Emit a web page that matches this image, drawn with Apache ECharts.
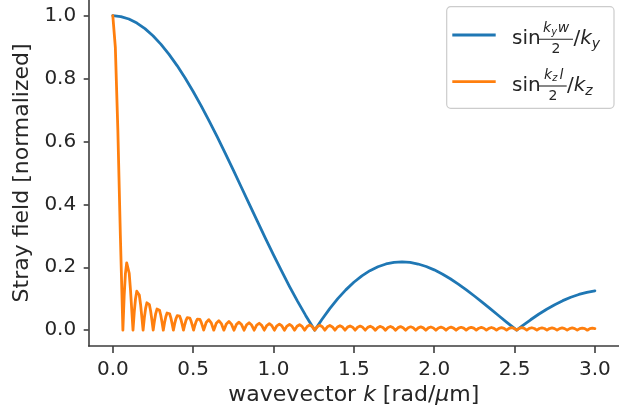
<!DOCTYPE html>
<html>
<head>
<meta charset="utf-8">
<script src="https://cdn.jsdelivr.net/npm/echarts@6/dist/echarts.min.js"></script>
<style>
  html, body { margin: 0; padding: 0; background: #ffffff; }
  #chart { width: 619px; height: 420px; }
</style>
</head>
<body>
<div id="chart"></div>
<script>
// Stray field of a rectangular source, normalized: |sin(k w/2)/k| for the width (y)
// and the length (z) directions, plotted against the wavevector in rad/um.

const xTicks = [0, 0.5, 1.0, 1.5, 2.0, 2.5, 3.0];
const yTicks = [0, 0.2, 0.4, 0.6, 0.8, 1.0];

// width direction (k_y)
const kY = [
  0, 0.05, 0.10, 0.15, 0.20, 0.25, 0.30, 0.35, 0.40, 0.45, 0.50, 0.55, 0.60, 0.65, 0.70,
  0.75, 0.80, 0.85, 0.90, 0.95, 1.00, 1.05, 1.10, 1.15, 1.20, 1.2566, 1.30, 1.35, 1.40,
  1.45, 1.50, 1.55, 1.60, 1.65, 1.70, 1.75, 1.80, 1.85, 1.90, 1.95, 2.00, 2.05, 2.10,
  2.15, 2.20, 2.25, 2.30, 2.35, 2.40, 2.45, 2.5133, 2.55, 2.60, 2.65, 2.70, 2.75, 2.80,
  2.85, 2.90, 2.95, 3.00
];
const strayY = [
  1.0000, 0.9974, 0.9896, 0.9767, 0.9589, 0.9362, 0.9089, 0.8772, 0.8415, 0.8020, 0.7592,
  0.7134, 0.6650, 0.6145, 0.5623, 0.5089, 0.4546, 0.4002, 0.3458, 0.2921, 0.2394, 0.1882,
  0.1388, 0.0916, 0.0470, 0.0000, 0.0333, 0.0685, 0.1002, 0.1282, 0.1524, 0.1728, 0.1892,
  0.2018, 0.2106, 0.2157, 0.2172, 0.2154, 0.2104, 0.2025, 0.1918, 0.1788, 0.1636, 0.1467,
  0.1283, 0.1087, 0.0884, 0.0676, 0.0466, 0.0257, 0.0000, 0.0144, 0.0331, 0.0506, 0.0667,
  0.0811, 0.0939, 0.1047, 0.1136, 0.1204, 0.1251
];

// length direction (k_z)
const kZ = [
  0, 0.0157, 0.0314, 0.0471, 0.0628,
  0.0707, 0.0785, 0.0864, 0.0942, 0.1021, 0.1100, 0.1178, 0.1257,
  0.1335, 0.1414, 0.1492, 0.1571, 0.1649, 0.1728, 0.1806, 0.1885,
  0.1963, 0.2042, 0.2121, 0.2199, 0.2278, 0.2356, 0.2435, 0.2513,
  0.2592, 0.2670, 0.2749, 0.2827, 0.2906, 0.2985, 0.3063, 0.3142,
  0.3220, 0.3299, 0.3377, 0.3456, 0.3534, 0.3613, 0.3691, 0.3770,
  0.3848, 0.3927, 0.4006, 0.4084, 0.4163, 0.4241, 0.4320, 0.4398,
  0.4477, 0.4555, 0.4634, 0.4712, 0.4791, 0.4869, 0.4948, 0.5027,
  0.5105, 0.5184, 0.5262, 0.5341, 0.5419, 0.5498, 0.5576, 0.5655,
  0.5812, 0.5969, 0.6126,
  0.6283, 0.6440, 0.6597, 0.6754, 0.6912, 0.7069, 0.7226, 0.7383, 0.7540, 0.7697,
  0.7854, 0.8011, 0.8168, 0.8325, 0.8482, 0.8639, 0.8796, 0.8954, 0.9111, 0.9268,
  0.9425, 0.9582, 0.9739, 0.9896, 1.0053, 1.0210, 1.0367, 1.0524, 1.0681, 1.0838,
  1.0996, 1.1153, 1.1310, 1.1467, 1.1624, 1.1781, 1.1938, 1.2095, 1.2252, 1.2409,
  1.2566, 1.2723, 1.2881, 1.3038, 1.3195, 1.3352, 1.3509, 1.3666, 1.3823, 1.3980,
  1.4137, 1.4294, 1.4451, 1.4608, 1.4765, 1.4923, 1.5080, 1.5237, 1.5394, 1.5551,
  1.5708, 1.5865, 1.6022, 1.6179, 1.6336, 1.6493, 1.6650, 1.6808, 1.6965, 1.7122,
  1.7279, 1.7436, 1.7593, 1.7750, 1.7907, 1.8064, 1.8221, 1.8378, 1.8535, 1.8692,
  1.8850, 1.9007, 1.9164, 1.9321, 1.9478, 1.9635, 1.9792, 1.9949, 2.0106, 2.0263,
  2.0420, 2.0577, 2.0735, 2.0892, 2.1049, 2.1206, 2.1363, 2.1520, 2.1677, 2.1834,
  2.1991, 2.2148, 2.2305, 2.2462, 2.2619, 2.2777, 2.2934, 2.3091, 2.3248, 2.3405,
  2.3562, 2.3719, 2.3876, 2.4033, 2.4190, 2.4347, 2.4504, 2.4662, 2.4819, 2.4976,
  2.5133, 2.5290, 2.5447, 2.5604, 2.5761, 2.5918, 2.6075, 2.6232, 2.6389, 2.6546,
  2.6704, 2.6861, 2.7018, 2.7175, 2.7332, 2.7489, 2.7646, 2.7803, 2.7960, 2.8117,
  2.8274, 2.8431, 2.8588, 2.8746, 2.8903, 2.9060, 2.9217, 2.9374, 2.9531, 2.9688,
  2.9845, 3.0000
];
const strayZ = [
  1.0000, 0.9003, 0.6366, 0.3001, 0,
  0.1083, 0.1801, 0.2139, 0.2122, 0.1810, 0.1286, 0.0650, 0,
  0.0573, 0.1000, 0.1238, 0.1273, 0.1120, 0.0818, 0.0424, 0,
  0.0390, 0.0693, 0.0871, 0.0909, 0.0811, 0.0600, 0.0314, 0,
  0.0295, 0.0530, 0.0672, 0.0707, 0.0636, 0.0474, 0.0250, 0,
  0.0238, 0.0429, 0.0547, 0.0579, 0.0523, 0.0391, 0.0207, 0,
  0.0199, 0.0360, 0.0461, 0.0490, 0.0444, 0.0333, 0.0177, 0,
  0.0171, 0.0310, 0.0399, 0.0424, 0.0386, 0.0290, 0.0155, 0,
  0.0150, 0.0273, 0.0351, 0.0374, 0.0341, 0.0257, 0.0137, 0,
  0.0243, 0.0335, 0.0231,
  0, 0.0220, 0.0303, 0.0209, 0, 0.0200, 0.0277, 0.0192, 0, 0.0184,
  0.0255, 0.0177, 0, 0.0170, 0.0236, 0.0164, 0, 0.0158, 0.0220, 0.0153,
  0, 0.0148, 0.0205, 0.0143, 0, 0.0139, 0.0193, 0.0134, 0, 0.0130,
  0.0182, 0.0127, 0, 0.0123, 0.0172, 0.0120, 0, 0.0117, 0.0163, 0.0114,
  0, 0.0111, 0.0155, 0.0108, 0, 0.0106, 0.0148, 0.0103, 0, 0.0101,
  0.0141, 0.0099, 0, 0.0097, 0.0135, 0.0095, 0, 0.0093, 0.0130, 0.0091,
  0, 0.0089, 0.0125, 0.0087, 0, 0.0086, 0.0120, 0.0084, 0, 0.0083,
  0.0116, 0.0081, 0, 0.0080, 0.0112, 0.0078, 0, 0.0077, 0.0108, 0.0076,
  0, 0.0074, 0.0104, 0.0073, 0, 0.0072, 0.0101, 0.0071, 0, 0.0070,
  0.0098, 0.0069, 0, 0.0068, 0.0095, 0.0067, 0, 0.0066, 0.0092, 0.0065,
  0, 0.0064, 0.0090, 0.0063, 0, 0.0062, 0.0087, 0.0061, 0, 0.0060,
  0.0085, 0.0060, 0, 0.0059, 0.0083, 0.0058, 0, 0.0057, 0.0081, 0.0057,
  0, 0.0056, 0.0079, 0.0055, 0, 0.0055, 0.0077, 0.0054, 0, 0.0053,
  0.0075, 0.0053, 0, 0.0052, 0.0073, 0.0051, 0, 0.0051, 0.0072, 0.0050,
  0, 0.0050, 0.0070, 0.0049, 0, 0.0049, 0.0068, 0.0048, 0, 0.0048,
  0.0067, 0.0048
];

const COLOR_Y = '#1f77b4';
const COLOR_Z = '#ff7f0e';
const FONT = 'DejaVu Sans';
const TEXT = '#262626';
const AXIS = '#3d3d3d';

const pairs = (xs, ys) => xs.map((x, i) => [x, ys[i]]);

// legend labels in math style: sin(k w / 2)/k
function mathLabel(base, num, sub, bar, denX, slashX) {
  const els = [];
  const mid = (size) => 0.297 * size;    // middle-of-em offset above the baseline
  els.push({ type: 'text', x: 512, y: base - mid(20),
    style: { text: 'sin', font: '20px "DejaVu Sans"', fill: TEXT, verticalAlign: 'middle' } });
  num.forEach(n => els.push({ type: 'text', x: n.x, y: base + n.dy - mid(n.size),
    style: { text: n.t, font: 'italic ' + n.size + 'px "DejaVu Sans"', fill: TEXT, verticalAlign: 'middle' } }));
  els.push({ type: 'line', shape: { x1: bar[0], y1: base - 5.7, x2: bar[1], y2: base - 5.7 },
    style: { stroke: TEXT, lineWidth: 1.1 } });
  els.push({ type: 'text', x: denX, y: base + 8.5 - mid(14),
    style: { text: '2', font: '14px "DejaVu Sans"', fill: TEXT, verticalAlign: 'middle', align: 'center' } });
  els.push({ type: 'text', x: slashX, y: base - mid(20),
    style: { text: '/', font: '20px "DejaVu Sans"', fill: TEXT, verticalAlign: 'middle' } });
  els.push({ type: 'text', x: slashX + 6.7, y: base - mid(20),
    style: { text: 'k', font: 'italic 20px "DejaVu Sans"', fill: TEXT, verticalAlign: 'middle' } });
  els.push({ type: 'text', x: slashX + 18.3, y: base + 4 - mid(14),
    style: { text: sub, font: 'italic 14px "DejaVu Sans"', fill: TEXT, verticalAlign: 'middle' } });
  return els;
}

const legendElements = [
  { type: 'rect', shape: { x: 446.7, y: 6.7, width: 167.3, height: 101.6, r: 4 },
    style: { fill: 'rgba(255,255,255,0.8)', stroke: '#cccccc', lineWidth: 1.2 } },
  { type: 'line', shape: { x1: 452.3, y1: 35, x2: 495.7, y2: 35 },
    style: { stroke: COLOR_Y, lineWidth: 2.8 } },
  { type: 'line', shape: { x1: 452.3, y1: 81.7, x2: 495.7, y2: 81.7 },
    style: { stroke: COLOR_Z, lineWidth: 2.8 } }
].concat(
  mathLabel(45, [
    { t: 'k', x: 543, dy: -12.5, size: 14 },
    { t: 'y', x: 551.3, dy: -10, size: 9.8 },
    { t: 'w', x: 557.8, dy: -12.5, size: 14 }
  ], 'y', [539, 573], 556, 573.5),
  mathLabel(91.7, [
    { t: 'k', x: 544, dy: -12.5, size: 14 },
    { t: 'z', x: 552.3, dy: -10, size: 9.8 },
    { t: 'l', x: 559.5, dy: -12.5, size: 14 }
  ], 'z', [539, 566.7], 552.9, 567)
);

const chart = echarts.init(document.getElementById('chart'), null, { renderer: 'canvas' });

chart.setOption({
  animation: false,
  backgroundColor: '#ffffff',
  grid: { left: 88.7, right: -5.3, top: -3.9, bottom: 74.1, containLabel: false },
  xAxis: {
    type: 'value',
    min: -0.15,
    max: 3.15,
    splitLine: { show: false },
    axisLine: { onZero: false, lineStyle: { color: AXIS, width: 1.6 } },
    axisTick: { customValues: xTicks, length: 7, lineStyle: { color: AXIS, width: 1.6 } },
    axisLabel: {
      customValues: xTicks,
      formatter: (v) => v.toFixed(1),
      fontFamily: FONT, fontSize: 20, color: TEXT, margin: 13.5
    },
    name: '{t|wavevector }{i|k}{t| [rad/}{i|μ}{t|m]}',
    nameLocation: 'middle',
    nameGap: 33,
    nameTextStyle: {
      fontFamily: FONT, fontSize: 22, color: TEXT,
      rich: {
        t: { fontFamily: FONT, fontSize: 22, color: TEXT },
        i: { fontFamily: FONT, fontSize: 22, color: TEXT, fontStyle: 'italic' }
      }
    }
  },
  yAxis: {
    type: 'value',
    min: -0.05,
    max: 1.05,
    splitLine: { show: false },
    axisLine: { show: true, onZero: false, lineStyle: { color: AXIS, width: 1.6 } },
    axisTick: { show: true, customValues: yTicks, length: 5, lineStyle: { color: AXIS, width: 1.6 } },
    axisLabel: {
      customValues: yTicks,
      formatter: (v) => v.toFixed(1),
      fontFamily: FONT, fontSize: 20, color: TEXT, margin: 12.5,
      padding: [6, 0, 0, 0]
    },
    name: 'Stray field [normalized]',
    nameLocation: 'middle',
    nameRotate: 90,
    nameGap: 51,
    nameTextStyle: { fontFamily: FONT, fontSize: 22, color: TEXT }
  },
  series: [
    {
      name: 'y',
      type: 'line',
      data: pairs(kY, strayY),
      showSymbol: false,
      symbol: 'none',
      smooth: false,
      lineStyle: { color: COLOR_Y, width: 2.8, join: 'round', cap: 'round' },
      itemStyle: { color: COLOR_Y },
      z: 2
    },
    {
      name: 'z',
      type: 'line',
      data: pairs(kZ, strayZ),
      showSymbol: false,
      symbol: 'none',
      smooth: false,
      lineStyle: { color: COLOR_Z, width: 2.8, join: 'round', cap: 'round' },
      itemStyle: { color: COLOR_Z },
      z: 3
    }
  ],
  graphic: { elements: legendElements }
});
</script>
</body>
</html>
